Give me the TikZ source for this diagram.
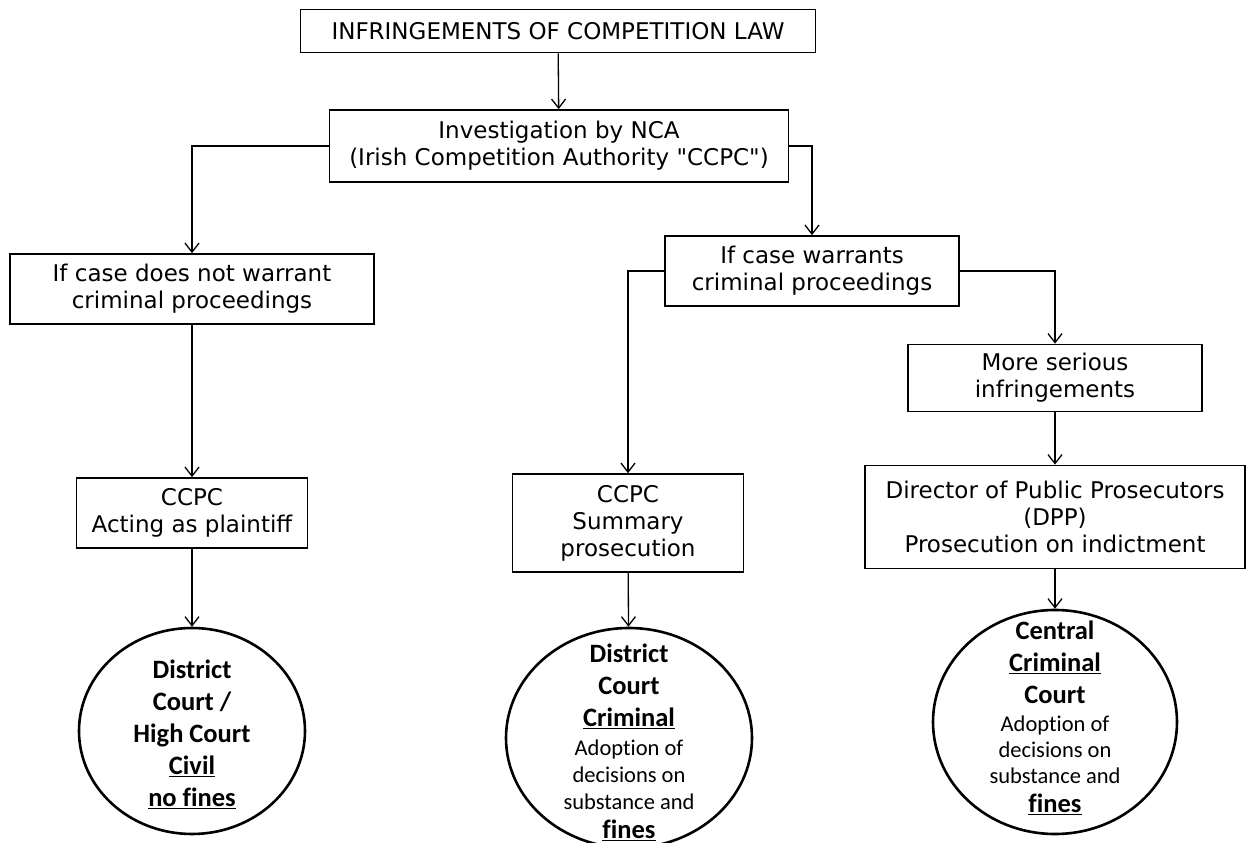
\documentclass[tikz,border=0pt]{standalone}
\usepackage{fontspec}
\setmainfont{DejaVu Sans}
\newfontfamily\ellfont[Ligatures=NoCommon]{Carlito}
\usetikzlibrary{arrows.meta,shapes.geometric}
\begin{document}
\begin{tikzpicture}[x=1pt,y=-1pt,
  boxnode/.style={draw, line width=1.7pt, rectangle, inner sep=0pt, align=center,
     font=\fontsize{23}{27}\selectfont},
  ellnode/.style={draw, line width=2.6pt, ellipse, inner sep=0pt},
  elltext/.style={inner sep=0pt, align=center,
     font=\ellfont\fontsize{26.5}{32}\selectfont},
  small/.style={},
  conn/.style={line width=1.3pt, -{Straight Barb[length=9pt,width=14pt,line width=1.3pt]}}]
\newcommand\smalltext[1]{{\fontsize{22.5}{27}\selectfont #1}}
\useasboundingbox (0,0) rectangle (1250,843);
\node[boxnode, minimum width=515, minimum height=43] (top) at (558,31) {INFRINGEMENTS OF COMPETITION LAW};
\node[boxnode, minimum width=459, minimum height=72] (nca) at (559,146) {Investigation by NCA\\(Irish Competition Authority \textquotedbl CCPC\textquotedbl)};
\node[boxnode, minimum width=364, minimum height=70] (lbox) at (192,289) {If case does not warrant\\criminal proceedings};
\node[boxnode, minimum width=294, minimum height=70] (rbox) at (812,271) {If case warrants\\criminal proceedings};
\node[boxnode, minimum width=294, minimum height=67] (more) at (1055,378) {More serious\\infringements};
\node[boxnode, minimum width=231, minimum height=70] (cc1) at (192,513) {CCPC\\Acting as plaintiff};
\node[boxnode, minimum width=231, minimum height=98] (cc2) at (628,523) {CCPC\\Summary\\prosecution};
\node[boxnode, minimum width=380, minimum height=103] (dpp) at (1055,517) {Director of Public Prosecutors\\(DPP)\\Prosecution on indictment};
\node[ellnode, minimum width=226, minimum height=206] (e1) at (192,731) {};
\node[elltext] (e1t) at (192,734)
  {\bfseries District\\\bfseries Court /\\\bfseries High Court\\\bfseries\underline{Civil}\\\bfseries\underline{no fines}};
\node[ellnode, minimum width=246, minimum height=220] (e2) at (629,738) {};
\node[elltext] (e2t) at (629,742)
  {\bfseries District\\\bfseries Court\\\bfseries\underline{Criminal}\\[-3pt]
   \smalltext{Adoption of}\\[-5pt]\smalltext{decisions on}\\[-5pt]\smalltext{substance and}\\[-3pt]\bfseries\underline{fines}};
\node[ellnode, minimum width=244, minimum height=224] (e3) at (1055,722) {};
\node[elltext] (e3t) at (1055,718)
  {\bfseries Central\\\bfseries\underline{Criminal}\\\bfseries Court\\[-4pt]
   \smalltext{Adoption of}\\[-6pt]\smalltext{decisions on}\\[-6pt]\smalltext{substance and}\\[-3pt]\bfseries\underline{fines}};
\draw[conn] (top) -- (nca);
\draw[conn] (nca.west) -| (lbox.north);
\draw[conn] (nca.east) -| (rbox.north);
\draw[conn] (lbox) -- (cc1);
\draw[conn] (cc1) -- (e1);
\draw[conn] (rbox.west) -| (cc2.north);
\draw[conn] (rbox.east) -| (more.north);
\draw[conn] (cc2) -- (e2);
\draw[conn] (more) -- (dpp);
\draw[conn] (dpp) -- (e3);
\end{tikzpicture}
\end{document}
